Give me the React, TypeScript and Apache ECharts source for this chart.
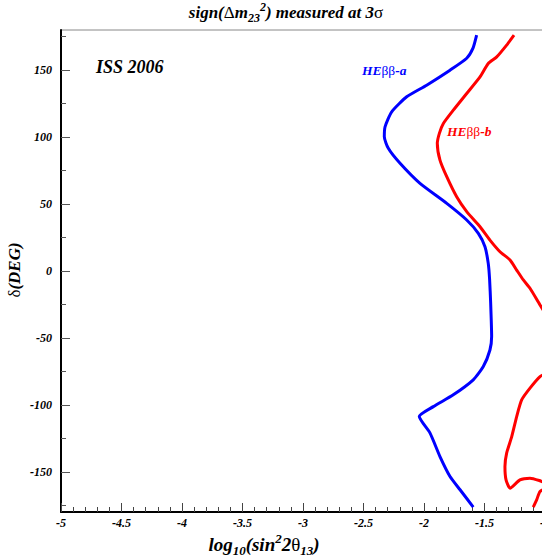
import React, { useEffect, useRef } from "react";
import * as echarts from "echarts";

const xTicks = [-5, -4.5, -4, -3.5, -3, -2.5, -2, -1.5, -1];
const yMajorTicks = [-150, -100, -50, 0, 50, 100, 150];
const yMinorTicks = [-175, -125, -75, -25, 25, 75, 125, 175];

const blueContour: number[][] = [
  [-1.565, 176.1], [-1.595, 166.4], [-1.647, 158.9], [-1.785, 150], [-1.978, 138.8],
  [-2.143, 130.1], [-2.267, 118.9], [-2.322, 107.7], [-2.328, 100.2], [-2.295, 91.6],
  [-2.198, 80.4], [-2.033, 65.4], [-1.812, 50.5], [-1.647, 38.1], [-1.551, 28.1],
  [-1.496, 18.1], [-1.469, 5.7], [-1.458, -6], [-1.449, -24.1], [-1.441, -49],
  [-1.455, -59], [-1.51, -71.4], [-1.593, -81.3], [-1.758, -92.5], [-1.923, -101.3],
  [-2.039, -108.7], [-1.95, -121.1], [-1.868, -138.6], [-1.785, -153.5],
  [-1.702, -163.4], [-1.593, -176.3],
];

const redContourUpper: number[][] = [
  [-1.256, 176.1], [-1.317, 168.7], [-1.399, 159.9], [-1.469, 155], [-1.537, 145],
  [-1.647, 132.6], [-1.758, 120.1], [-1.84, 110.2], [-1.873, 102.8], [-1.89, 95.3],
  [-1.868, 82.8], [-1.812, 70.4], [-1.73, 55.4], [-1.647, 44.3], [-1.537, 33.1],
  [-1.455, 23.1], [-1.372, 14.4], [-1.289, 8.2], [-1.234, 0.7], [-1.179, -6.7],
  [-1.124, -12.9], [-1.041, -25.4], [-0.98, -34],
];

const redContourLower: number[][] = [
  [-0.98, -76], [-1.041, -78.9], [-1.124, -87.5], [-1.193, -96.3], [-1.234, -108.7],
  [-1.275, -123.7], [-1.317, -136], [-1.331, -146], [-1.322, -156], [-1.289, -162.2],
  [-1.207, -156], [-1.124, -154.7], [-1.047, -156.5], [-0.98, -159],
];

const redContourBottom: number[][] = [
  [-0.98, -162], [-1.041, -164.7], [-1.069, -170.9], [-1.097, -176.3],
];

const FONT = "'Liberation Serif', 'Times New Roman', serif";

export default function App() {
  const ref = useRef<HTMLDivElement>(null);
  useEffect(() => {
    if (!ref.current) return;
    const chart = echarts.init(ref.current, undefined, { renderer: "svg" });
    const labelStyle = {
      fontFamily: FONT,
      fontWeight: "bold" as const,
      fontStyle: "italic" as const,
      fontSize: 12,
      color: "#000",
    };
    const lineSeries = (data: number[][], color: string) => ({
      type: "line",
      data,
      showSymbol: false,
      smooth: 0.2,
      clip: true,
      lineStyle: { color, width: 3 },
      xAxisIndex: 0,
      yAxisIndex: 0,
    });
    const baseRich = (size: number) => ({
      a: { fontFamily: FONT, fontWeight: "bold", fontStyle: "italic", fontSize: size, lineHeight: size, verticalAlign: "middle", fill: "#000" },
      n: { fontFamily: FONT, fontWeight: "normal", fontStyle: "normal", fontSize: size, lineHeight: size, verticalAlign: "middle", fill: "#000" },
      sub: { fontFamily: FONT, fontWeight: "bold", fontStyle: "italic", fontSize: Math.round(size * 0.7), lineHeight: Math.round(size * 0.7), padding: [Math.round(size * 0.62), 0, 0, 0], verticalAlign: "middle", fill: "#000" },
      sup: { fontFamily: FONT, fontWeight: "bold", fontStyle: "italic", fontSize: Math.round(size * 0.7), lineHeight: Math.round(size * 0.7), padding: [0, 0, Math.round(size * 0.62), 0], verticalAlign: "middle", fill: "#000" },
    });
    chart.setOption({
      animation: false,
      backgroundColor: "#fff",
      grid: {
        left: 61,
        top: 30,
        width: 484,
        height: 482,
        show: true,
        borderColor: "#888",
        borderWidth: 1,
        containLabel: false,
      },
      xAxis: {
        type: "value",
        min: xTicks[0],
        max: xTicks[xTicks.length - 1],
        interval: 0.5,
        axisLine: { show: true, onZero: false, lineStyle: { color: "#000", width: 2 } },
        axisTick: { show: true, inside: true, length: 9, lineStyle: { color: "#444", width: 1 } },
        minorTick: { show: true, splitNumber: 5, length: 5, lineStyle: { color: "#444", width: 1 } },
        splitLine: { show: false },
        axisLabel: { ...labelStyle, margin: 5, showMinLabel: true, showMaxLabel: true },
      },
      yAxis: [
        {
          type: "value",
          min: -180,
          max: 180,
          position: "left",
          axisLine: { show: true, onZero: false, lineStyle: { color: "#000", width: 2 } },
          axisTick: { show: true, inside: true, length: 9, customValues: yMajorTicks, lineStyle: { color: "#555", width: 1 } },
          splitLine: { show: false },
          axisLabel: { ...labelStyle, margin: 9, customValues: yMajorTicks },
        },
        {
          type: "value",
          min: -180,
          max: 180,
          position: "left",
          offset: 0,
          axisLine: { show: false },
          axisTick: { show: true, inside: true, length: 5, customValues: yMinorTicks, lineStyle: { color: "#555", width: 1 } },
          splitLine: { show: false },
          axisLabel: { show: false },
        },
      ],
      series: [
        lineSeries(blueContour, "#0000ff"),
        lineSeries(redContourUpper, "#ff0000"),
        lineSeries(redContourLower, "#ff0000"),
        lineSeries(redContourBottom, "#ff0000"),
      ],
      graphic: [
        {
          type: "text",
          x: 286,
          y: 12,
          style: {
            text: "{a|sign(}{n|Δ}{a|m}{sub|23}{sup|2}{a|) measured at 3}{n|σ}",
            rich: baseRich(17),
            textAlign: "center",
            textVerticalAlign: "middle",
          },
        },
        {
          type: "text",
          x: 264,
          y: 544,
          style: {
            text: "{a|log}{sub|10}{a|(sin}{sup|2}{a|2}{n|θ}{sub|13}{a|)}",
            rich: baseRich(19),
            textAlign: "center",
            textVerticalAlign: "middle",
          },
        },
        {
          type: "text",
          x: 14,
          y: 270,
          rotation: Math.PI / 2,
          style: {
            text: "{n|δ}{a|(DEG)}",
            rich: baseRich(17),
            textAlign: "center",
            textVerticalAlign: "middle",
          },
        },
        {
          type: "text",
          x: 96,
          y: 67,
          style: {
            text: "ISS 2006",
            font: `italic bold 18px ${FONT}`,
            fill: "#000",
            textAlign: "left",
            textVerticalAlign: "middle",
          },
        },
        {
          type: "text",
          x: 362,
          y: 70,
          style: {
            text: "{a|HE}{n|ββ}{a|-a}",
            rich: {
              a: { fontFamily: FONT, fontWeight: "bold", fontStyle: "italic", fontSize: 13.5, fill: "#0000ff" },
              n: { fontFamily: FONT, fontWeight: "normal", fontStyle: "normal", fontSize: 13.5, fill: "#0000ff" },
            },
            textAlign: "left",
            textVerticalAlign: "middle",
          },
        },
        {
          type: "text",
          x: 447,
          y: 131,
          style: {
            text: "{a|HE}{n|ββ}{a|-b}",
            rich: {
              a: { fontFamily: FONT, fontWeight: "bold", fontStyle: "italic", fontSize: 13.5, fill: "#ff0000" },
              n: { fontFamily: FONT, fontWeight: "normal", fontStyle: "normal", fontSize: 13.5, fill: "#ff0000" },
            },
            textAlign: "left",
            textVerticalAlign: "middle",
          },
        },
      ],
    });
    return () => chart.dispose();
  }, []);
  return (
    <div style={{ position: "fixed", left: 0, top: 0, width: 542, height: 556, overflow: "hidden", background: "#fff" }}>
      <div ref={ref} style={{ width: 570, height: 556 }} />
    </div>
  );
}
